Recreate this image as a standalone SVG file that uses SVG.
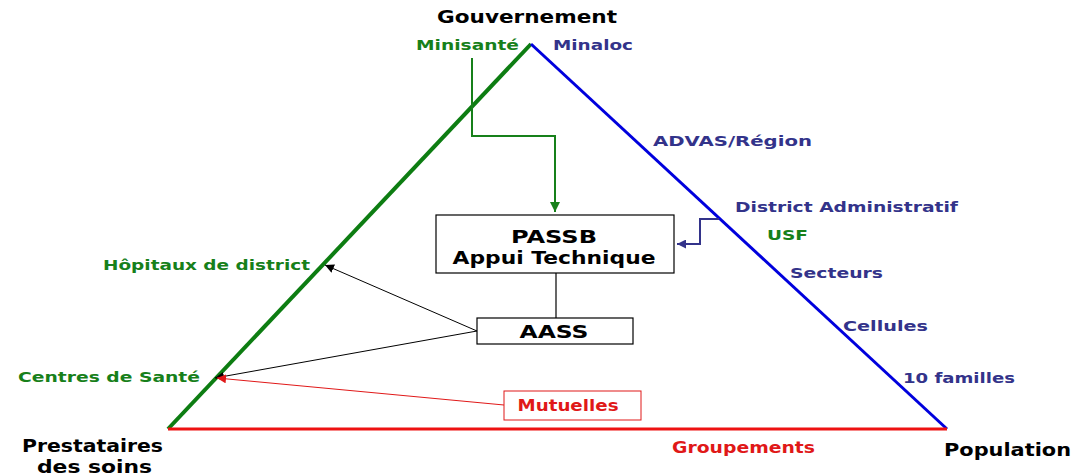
<svg xmlns="http://www.w3.org/2000/svg" width="1076" height="476" viewBox="0 0 1076 476">
<style>
text{font-family:"DejaVu Sans","Liberation Sans",sans-serif;font-weight:bold}
.blk{fill:#000}
.grn{fill:#17801a}
.blu{fill:#33338a}
.red{fill:#e01818}
.box{fill:#fff;stroke:#000;stroke-width:1.2}
.mid{text-anchor:middle}
</style>
<defs>
<marker id="ag" viewBox="0 0 10 10" refX="10" refY="5" markerWidth="10" markerHeight="10" markerUnits="userSpaceOnUse" orient="auto"><path d="M0,0L10,5L0,10z" fill="#17801a"/></marker>
<marker id="ab" viewBox="0 0 10 10" refX="10" refY="5" markerWidth="9" markerHeight="9" markerUnits="userSpaceOnUse" orient="auto"><path d="M0,0L10,5L0,10z" fill="#33338a"/></marker>
<marker id="ak" viewBox="0 0 10 10" refX="10" refY="5" markerWidth="9" markerHeight="9" markerUnits="userSpaceOnUse" orient="auto"><path d="M0,0L10,5L0,10z" fill="#000"/></marker>
<marker id="ar" viewBox="0 0 10 10" refX="10" refY="5" markerWidth="9" markerHeight="9" markerUnits="userSpaceOnUse" orient="auto"><path d="M0,0L10,5L0,10z" fill="#e01818"/></marker>
</defs>
<g id="triangle">
<line x1="168" y1="429" x2="531" y2="44" stroke="#0d7d12" stroke-width="4"/>
<line x1="531" y1="44" x2="947" y2="429" stroke="#0000dd" stroke-width="3"/>
<line x1="168" y1="429" x2="947" y2="429" stroke="#ee1111" stroke-width="3"/>
</g>
<g id="connectors" fill="none">
<path d="M472,58V136H555V212" stroke="#17801a" stroke-width="2" marker-end="url(#ag)"/>
<path d="M719,219H700V244H677" stroke="#33338a" stroke-width="2" marker-end="url(#ab)"/>
<line x1="556" y1="273" x2="556" y2="318" stroke="#000" stroke-width="1.2"/>
<line x1="477" y1="331" x2="325" y2="265" stroke="#000" stroke-width="1" marker-end="url(#ak)"/>
<line x1="477" y1="331" x2="215" y2="378" stroke="#000" stroke-width="1" marker-end="url(#ak)"/>
<line x1="504" y1="405" x2="217" y2="378" stroke="#e01818" stroke-width="1" marker-end="url(#ar)"/>
</g>
<g id="passb">
<rect class="box" x="436" y="215" width="238" height="58"/>
<text class="blk mid" x="554" y="243" font-size="18" textLength="86" lengthAdjust="spacingAndGlyphs">PASSB</text>
<text class="blk mid" x="554" y="264" font-size="18" textLength="203" lengthAdjust="spacingAndGlyphs">Appui Technique</text>
</g>
<g id="aass">
<rect class="box" x="477" y="318" width="156" height="26"/>
<text class="blk mid" x="554" y="338" font-size="18" textLength="69" lengthAdjust="spacingAndGlyphs">AASS</text>
</g>
<g id="mutuelles">
<rect x="504" y="391" width="137" height="29" fill="#fff" stroke="#e01818" stroke-width="1"/>
<text class="red mid" x="568" y="411" font-size="15" textLength="101" lengthAdjust="spacingAndGlyphs">Mutuelles</text>
</g>
<g id="gouvernement"><text class="blk" x="437" y="23" font-size="17.5" textLength="180" lengthAdjust="spacingAndGlyphs">Gouvernement</text></g>
<g id="minisante"><text class="grn" x="416" y="50" font-size="14.5" textLength="103" lengthAdjust="spacingAndGlyphs">Minisanté</text></g>
<g id="minaloc"><text class="blu" x="553" y="50" font-size="14.5" textLength="80" lengthAdjust="spacingAndGlyphs">Minaloc</text></g>
<g id="advas"><text class="blu" x="653" y="146" font-size="14.5" textLength="159" lengthAdjust="spacingAndGlyphs">ADVAS/Région</text></g>
<g id="district"><text class="blu" x="735" y="212" font-size="14.5" textLength="223" lengthAdjust="spacingAndGlyphs">District Administratif</text></g>
<g id="usf"><text class="grn" x="767" y="240" font-size="14.5" textLength="41" lengthAdjust="spacingAndGlyphs">USF</text></g>
<g id="secteurs"><text class="blu" x="790" y="278" font-size="14.5" textLength="93" lengthAdjust="spacingAndGlyphs">Secteurs</text></g>
<g id="cellules"><text class="blu" x="843" y="331" font-size="14.5" textLength="85" lengthAdjust="spacingAndGlyphs">Cellules</text></g>
<g id="familles"><text class="blu" x="903" y="383" font-size="14.5" textLength="112" lengthAdjust="spacingAndGlyphs">10 familles</text></g>
<g id="population"><text class="blk" x="944" y="456" font-size="17.5" textLength="127" lengthAdjust="spacingAndGlyphs">Population</text></g>
<g id="groupements"><text class="red" x="672" y="453" font-size="15" textLength="143" lengthAdjust="spacingAndGlyphs">Groupements</text></g>
<g id="hopitaux"><text class="grn" x="103" y="270" font-size="14.5" textLength="207" lengthAdjust="spacingAndGlyphs">Hôpitaux de district</text></g>
<g id="centres"><text class="grn" x="18" y="382" font-size="14.5" textLength="182" lengthAdjust="spacingAndGlyphs">Centres de Santé</text></g>
<g id="prestataires">
<text class="blk" x="22" y="452" font-size="17.5" textLength="141" lengthAdjust="spacingAndGlyphs">Prestataires</text>
<text class="blk" x="37" y="473" font-size="17.5" textLength="115" lengthAdjust="spacingAndGlyphs">des soins</text>
</g>
</svg>
